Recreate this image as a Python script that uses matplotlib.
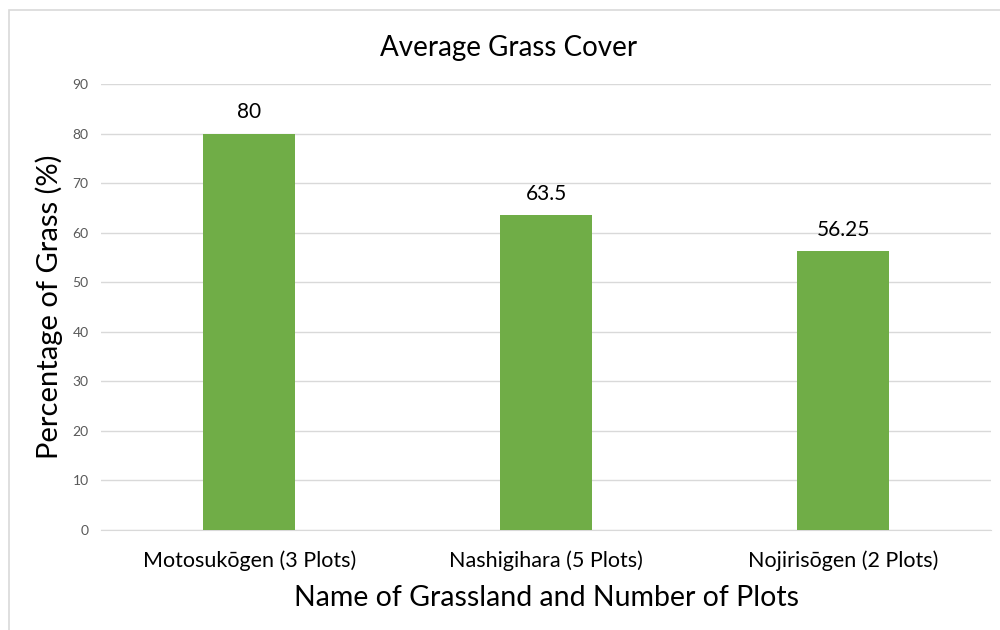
import matplotlib.pyplot as plt
from matplotlib.patches import Rectangle

grasslands = ["Motosukōgen (3 Plots)", "Nashigihara (5 Plots)", "Nojirisōgen (2 Plots)"]
cover = [80, 63.5, 56.25]
cover_labels = ["80", "63.5", "56.25"]
yticks = [0, 10, 20, 30, 40, 50, 60, 70, 80, 90]

plt.rcParams['font.family'] = ['Lato', 'DejaVu Sans']

fig = plt.figure(figsize=(10, 6.3), dpi=100)
ax = fig.add_axes([0.101, 0.1587, 0.8905, 0.708])

# chart frame
fig.patches.append(Rectangle((0.009, -0.05), 1.2, 1.034, transform=fig.transFigure,
                             fill=False, edgecolor='#d9d9d9', linewidth=1.2))

x = range(len(grasslands))
bars = ax.bar(x, cover, width=0.31, color='#70ad47', zorder=3)
for b, lab in zip(bars, cover_labels):
    ax.annotate(lab, (b.get_x() + b.get_width() / 2, b.get_height()),
                xytext=(0, 8), textcoords='offset points', ha='center', va='bottom',
                fontsize=15, color='#000000')

ax.set_xlim(-0.5, 2.5)
ax.set_ylim(0, 90)
ax.set_yticks(yticks)
ax.set_xticks(list(x))
ax.set_xticklabels(grasslands, fontsize=15.5, color='#000000')
ax.tick_params(axis='y', labelsize=10, colors='#595959', length=0, pad=9)
ax.tick_params(axis='x', length=0, pad=15)
ax.grid(axis='y', color='#d9d9d9', linewidth=1, zorder=0)
for s in ['top', 'right', 'left']:
    ax.spines[s].set_visible(False)
ax.spines['bottom'].set_color('#d9d9d9')

# title sits over the middle of the whole chart, not the plot area
ax.set_title("Average Grass Cover", fontsize=20, pad=20, x=0.458)
ax.set_ylabel("Percentage of Grass (%)", fontsize=21, labelpad=7)
ax.set_xlabel("Name of Grassland and Number of Plots", fontsize=20.5, labelpad=10)

fig.savefig("out.png", dpi=100)
